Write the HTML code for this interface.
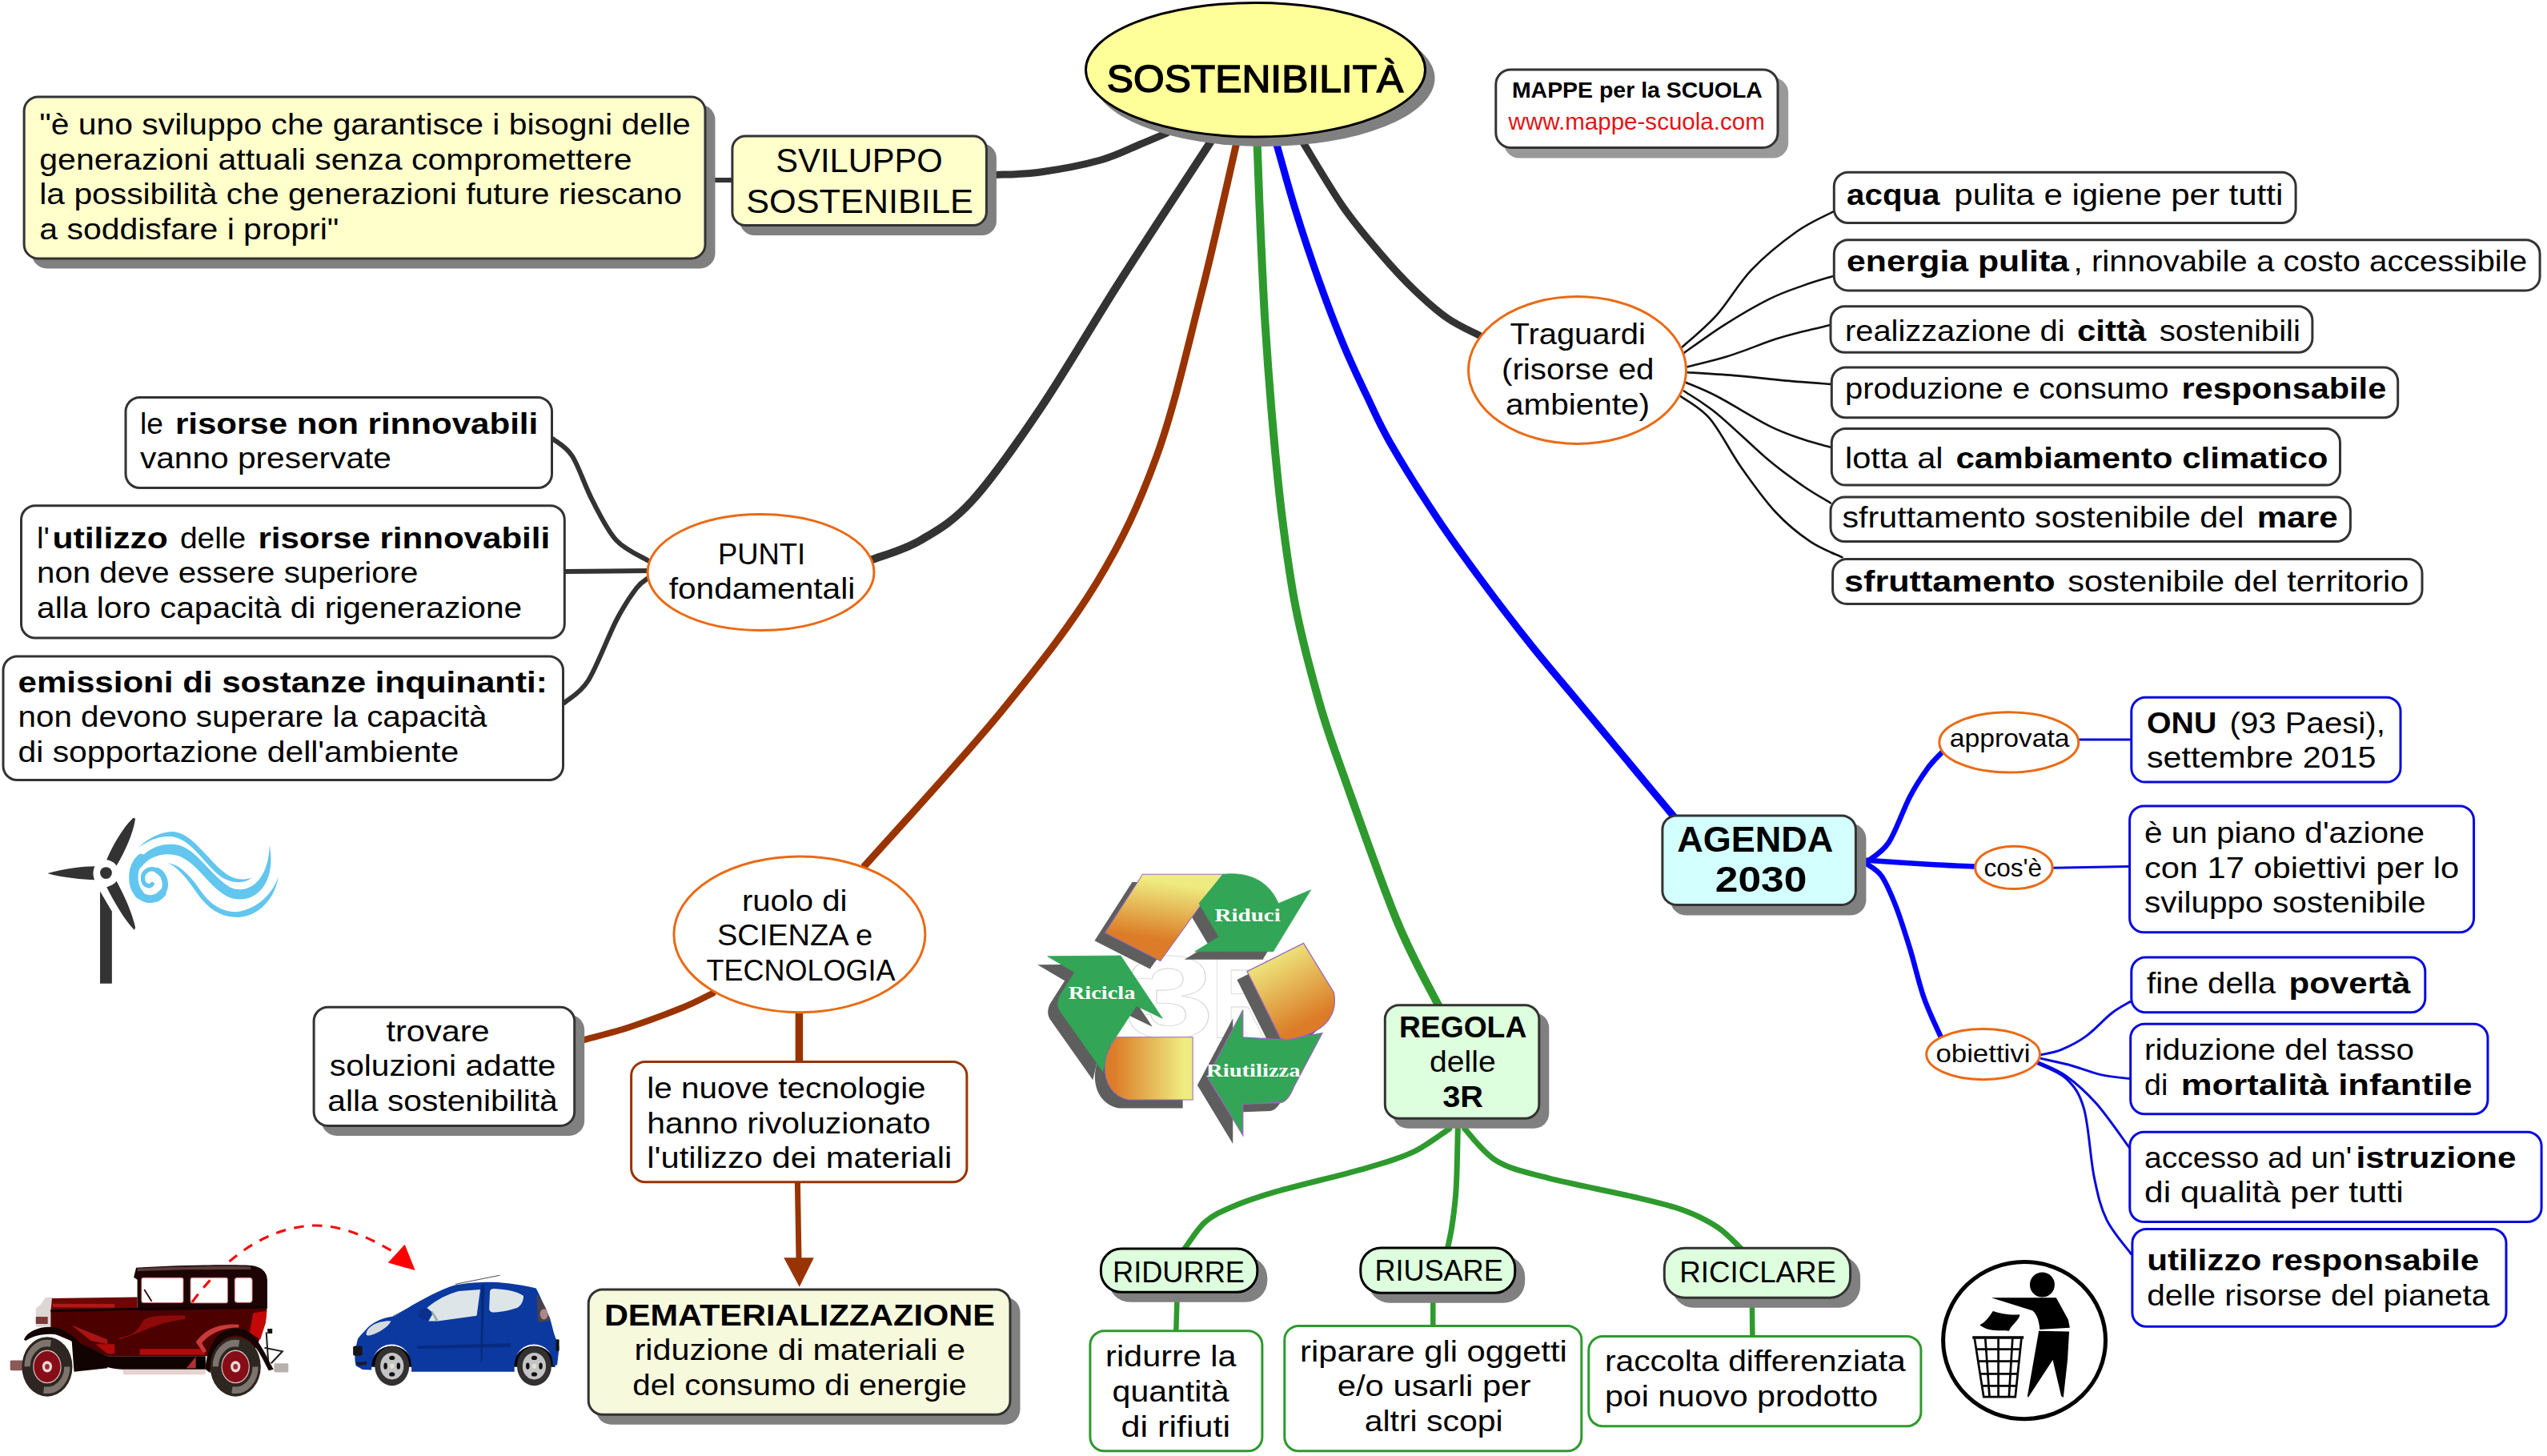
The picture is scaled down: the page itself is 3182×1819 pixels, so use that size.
<!DOCTYPE html>
<html><head><meta charset="utf-8"><title>Sostenibilita</title>
<style>
html,body{margin:0;padding:0;background:#fff;}
body{width:3182px;height:1819px;overflow:hidden;}
svg{display:block;font-family:"Liberation Sans",sans-serif;}
text{white-space:pre;}
</style></head><body>
<svg width="3182" height="1819" viewBox="0 0 3182 1819">
<rect width="3182" height="1819" fill="#ffffff"/>
<path d="M1243.0,218.5 C1252.5,217.9 1278.0,218.1 1300.0,215.0 C1322.0,211.9 1354.2,205.8 1375.0,200.0 C1395.8,194.2 1411.2,185.7 1425.0,180.0 C1438.8,174.3 1452.5,168.3 1458.0,166.0" fill="none" stroke="#333333" stroke-width="9" stroke-linecap="round" />
<path d="M885,225 L915,225" fill="none" stroke="#333333" stroke-width="6" stroke-linecap="round" />
<path d="M1512.0,178.0 C1493.3,206.7 1435.3,294.7 1400.0,350.0 C1364.7,405.3 1330.8,464.2 1300.0,510.0 C1269.2,555.8 1240.0,597.5 1215.0,625.0 C1190.0,652.5 1170.8,662.7 1150.0,675.0 C1129.2,687.3 1100.0,695.0 1090.0,699.0" fill="none" stroke="#333333" stroke-width="10" stroke-linecap="round" />
<path d="M1545.0,178.0 C1537.5,210.0 1516.7,304.7 1500.0,370.0 C1483.3,435.3 1466.7,510.3 1445.0,570.0 C1423.3,629.7 1402.5,674.7 1370.0,728.0 C1337.5,781.3 1298.3,831.0 1250.0,890.0 C1201.7,949.0 1108.3,1050.0 1080.0,1082.0" fill="none" stroke="#993300" stroke-width="9" stroke-linecap="round" />
<path d="M1570.6,178.0 C1571.3,196.3 1573.1,250.1 1574.8,288.1 C1576.5,326.2 1578.2,366.9 1580.7,406.3 C1583.2,445.7 1586.1,485.0 1589.5,524.4 C1592.9,563.8 1596.4,603.1 1601.3,642.5 C1606.2,681.9 1611.2,721.3 1619.1,760.7 C1627.0,800.1 1638.8,844.3 1648.6,878.8 C1658.4,913.2 1662.0,922.2 1678.1,967.4 C1694.2,1012.6 1725.2,1101.9 1745.0,1150.0 C1764.8,1198.1 1788.3,1238.3 1797.0,1256.0" fill="none" stroke="#2e9a2e" stroke-width="10" stroke-linecap="round" />
<path d="M1594.3,178.0 C1598.4,192.4 1610.0,235.3 1619.1,264.5 C1628.1,293.7 1638.8,325.5 1648.6,353.1 C1658.4,380.7 1668.2,406.3 1678.1,429.9 C1687.9,453.5 1697.8,474.2 1707.7,494.9 C1717.6,515.6 1722.4,528.3 1737.2,553.9 C1752.0,579.5 1776.6,618.9 1796.3,648.4 C1816.0,677.9 1835.6,704.5 1855.3,731.1 C1875.0,757.7 1894.7,783.3 1914.4,807.9 C1934.1,832.5 1953.8,855.2 1973.5,878.8 C1993.2,902.4 2012.9,926.2 2032.5,949.7 C2052.1,973.2 2081.2,1008.3 2091.0,1020.0" fill="none" stroke="#0000ff" stroke-width="9" stroke-linecap="round" />
<path d="M1627.9,178.0 C1636.3,191.4 1661.8,235.3 1678.1,258.6 C1694.3,281.9 1710.6,300.5 1725.4,317.7 C1740.2,334.9 1752.9,348.7 1766.7,362.0 C1780.5,375.3 1794.5,387.9 1808.1,397.4 C1821.6,406.9 1841.3,415.4 1848.0,419.0" fill="none" stroke="#333333" stroke-width="9" stroke-linecap="round" />
<path d="M691.0,548.5 C695.0,552.1 706.8,557.2 715.0,570.0 C723.2,582.8 730.8,607.5 740.0,625.0 C749.2,642.5 758.5,662.5 770.0,675.0 C781.5,687.5 802.5,695.8 809.0,700.0" fill="none" stroke="#333333" stroke-width="6" stroke-linecap="round" />
<path d="M706,714 L810,713" fill="none" stroke="#333333" stroke-width="6" stroke-linecap="round" />
<path d="M705.0,878.0 C710.0,873.3 724.2,867.2 735.0,850.0 C745.8,832.8 760.0,794.2 770.0,775.0 C780.0,755.8 788.3,743.8 795.0,735.0 C801.7,726.2 807.5,724.2 810.0,722.0" fill="none" stroke="#333333" stroke-width="6" stroke-linecap="round" />
<path d="M890.6,1240.8 C884.4,1243.8 870.9,1251.4 853.5,1258.5 C836.1,1265.6 807.0,1276.4 786.4,1283.2 C765.8,1290.0 739.2,1296.4 729.8,1299.1" fill="none" stroke="#993300" stroke-width="8" stroke-linecap="round" />
<path d="M998.4,1262 L998.4,1328" fill="none" stroke="#993300" stroke-width="9.5" stroke-linecap="round" />
<path d="M996.4,1478 L998,1574" fill="none" stroke="#993300" stroke-width="7" stroke-linecap="round" />
<path d="M979.2,1571.3 L1016.8,1571.3 L998.7,1607.8 Z" fill="#993300"/>
<path d="M1810.7,1410.2 C1802.9,1415.2 1782.4,1431.4 1764.0,1439.9 C1745.6,1448.4 1728.7,1453.0 1700.4,1461.1 C1672.1,1469.2 1621.2,1480.9 1594.4,1488.7 C1567.6,1496.5 1554.1,1501.4 1539.3,1507.7 C1524.5,1514.0 1515.3,1518.1 1505.4,1526.8 C1495.5,1535.5 1484.2,1554.5 1479.9,1560.0" fill="none" stroke="#2e9a2e" stroke-width="7" stroke-linecap="round" />
<path d="M1821.3,1410.2 C1821.0,1422.6 1820.4,1464.2 1819.2,1484.4 C1818.0,1504.6 1815.9,1518.7 1814.1,1531.1 C1812.3,1543.5 1809.5,1554.3 1808.6,1559.0" fill="none" stroke="#2e9a2e" stroke-width="7" stroke-linecap="round" />
<path d="M1829.8,1410.2 C1836.5,1416.9 1852.7,1440.2 1870.0,1450.5 C1887.3,1460.8 1905.4,1464.3 1933.7,1471.7 C1962.0,1479.1 2011.4,1488.3 2039.7,1495.0 C2068.0,1501.7 2085.6,1505.6 2103.3,1512.0 C2121.0,1518.4 2133.7,1525.2 2145.7,1533.2 C2157.7,1541.2 2170.4,1555.5 2175.3,1560.0" fill="none" stroke="#2e9a2e" stroke-width="7" stroke-linecap="round" />
<path d="M1470.6,1620 L1469.3,1663" fill="none" stroke="#2e9a2e" stroke-width="6.5" stroke-linecap="round" />
<path d="M1790.3,1620 L1790.3,1657" fill="none" stroke="#2e9a2e" stroke-width="6.5" stroke-linecap="round" />
<path d="M2188.9,1628 L2189.4,1670" fill="none" stroke="#2e9a2e" stroke-width="6.5" stroke-linecap="round" />
<path d="M2331.8,1076.9 C2336.4,1072.9 2350.5,1066.2 2359.5,1052.6 C2368.5,1039.0 2377.9,1010.8 2386.0,995.4 C2394.1,980.0 2401.4,969.3 2408.0,960.1 C2414.6,950.9 2422.7,943.6 2425.6,940.3" fill="none" stroke="#0000ff" stroke-width="6.5" stroke-linecap="round" />
<path d="M2331.8,1074.7 C2345.2,1075.6 2389.9,1078.7 2412.4,1080.0 C2434.9,1081.3 2457.9,1082.2 2467.0,1082.6" fill="none" stroke="#0000ff" stroke-width="6.5" stroke-linecap="round" />
<path d="M2331.8,1079.1 C2335.0,1081.7 2344.6,1085.7 2350.7,1094.5 C2356.8,1103.3 2362.5,1116.9 2368.4,1131.9 C2374.3,1147.0 2380.1,1165.7 2386.0,1184.8 C2391.9,1203.9 2397.2,1228.3 2403.6,1246.5 C2409.9,1264.7 2420.7,1286.2 2424.1,1294.1" fill="none" stroke="#0000ff" stroke-width="6.5" stroke-linecap="round" />
<path d="M2598,924 L2662,924" fill="none" stroke="#0808de" stroke-width="3" stroke-linecap="round" />
<path d="M2565.7,1084.3 L2659.5,1082.6" fill="none" stroke="#0808de" stroke-width="3" stroke-linecap="round" />
<path d="M2550.0,1317.7 C2554.2,1316.7 2565.8,1315.3 2575.2,1311.4 C2584.6,1307.5 2596.2,1301.7 2606.7,1294.1 C2617.2,1286.5 2629.1,1272.8 2638.2,1265.7 C2647.2,1258.6 2657.2,1253.9 2661.0,1251.6" fill="none" stroke="#0808de" stroke-width="3" stroke-linecap="round" />
<path d="M2550.0,1322.4 C2555.8,1323.7 2572.1,1326.9 2584.7,1330.3 C2597.3,1333.7 2612.9,1340.0 2625.6,1342.9 C2638.3,1345.8 2655.1,1346.8 2661.0,1347.6" fill="none" stroke="#0808de" stroke-width="3" stroke-linecap="round" />
<path d="M2546.9,1327.1 C2552.7,1330.0 2569.4,1335.8 2581.5,1344.5 C2593.6,1353.2 2606.1,1364.1 2619.3,1379.1 C2632.5,1394.0 2653.6,1425.0 2660.5,1434.2" fill="none" stroke="#0808de" stroke-width="3" stroke-linecap="round" />
<path d="M2545.3,1328.7 C2551.3,1331.8 2571.8,1338.1 2581.5,1347.6 C2591.2,1357.0 2597.8,1364.9 2603.6,1385.4 C2609.4,1405.9 2611.5,1447.3 2616.2,1470.4 C2620.9,1493.5 2624.2,1507.9 2631.9,1523.9 C2639.6,1539.9 2657.4,1559.4 2662.5,1566.5" fill="none" stroke="#0808de" stroke-width="3" stroke-linecap="round" />
<path d="M2101.6,433.6 C2108.8,426.9 2130.5,409.4 2144.9,393.3 C2159.3,377.3 2171.6,354.4 2188.2,337.1 C2204.7,319.8 2227.4,301.6 2244.4,289.5 C2261.4,277.4 2282.6,268.6 2290.3,264.4" fill="none" stroke="#111" stroke-width="2.6" stroke-linecap="round" />
<path d="M2103.8,440.9 C2112.1,435.2 2135.9,417.5 2153.6,406.3 C2171.2,395.2 2193.2,382.2 2209.8,373.9 C2226.4,365.6 2239.7,361.4 2253.1,356.6 C2266.5,351.7 2284.1,346.8 2290.3,344.9" fill="none" stroke="#111" stroke-width="2.6" stroke-linecap="round" />
<path d="M2108.1,458.2 C2116.4,456.1 2139.5,451.0 2157.9,445.3 C2176.3,439.5 2202.6,428.8 2218.5,423.6 C2234.3,418.4 2241.8,417.0 2253.1,414.1 C2264.3,411.2 2280.5,407.6 2285.9,406.3" fill="none" stroke="#111" stroke-width="2.6" stroke-linecap="round" />
<path d="M2108.1,465.2 C2117.9,465.8 2146.0,467.3 2166.5,469.1 C2187.1,470.8 2211.4,473.8 2231.4,475.6 C2251.5,477.4 2277.6,479.2 2286.8,479.9" fill="none" stroke="#111" stroke-width="2.6" stroke-linecap="round" />
<path d="M2106.0,477.7 C2112.4,480.6 2127.6,486.0 2144.9,495.0 C2162.2,504.0 2191.8,522.8 2209.8,531.8 C2227.8,540.8 2240.2,544.6 2253.1,549.1 C2265.9,553.6 2281.2,557.0 2286.8,558.6" fill="none" stroke="#111" stroke-width="2.6" stroke-linecap="round" />
<path d="M2103.8,488.5 C2110.6,493.2 2127.2,502.2 2144.9,516.7 C2162.6,531.1 2191.8,559.9 2209.8,575.1 C2227.8,590.2 2240.2,598.6 2253.1,607.5 C2265.9,616.4 2281.2,624.8 2286.8,628.3" fill="none" stroke="#111" stroke-width="2.6" stroke-linecap="round" />
<path d="M2099.5,495.0 C2105.6,499.7 2123.6,508.4 2136.2,523.1 C2148.9,537.9 2161.5,564.2 2175.2,583.7 C2188.9,603.2 2204.0,624.5 2218.5,640.0 C2232.9,655.5 2247.9,667.4 2261.7,676.7 C2275.6,686.1 2294.9,693.0 2301.5,696.2" fill="none" stroke="#111" stroke-width="2.6" stroke-linecap="round" />
<ellipse cx="1579.0" cy="97.8" rx="213.5" ry="85.2" fill="#808080"/>
<ellipse cx="1568.5" cy="87.2" rx="212.0" ry="83.8" fill="#ffff99" stroke="#000" stroke-width="3"/>
<text x="1382.8" y="114.8" font-size="49" stroke="#000" stroke-width="1.5" textLength="370.4" lengthAdjust="spacingAndGlyphs">SOSTENIBILITÀ</text>
<rect x="39.6" y="130.6" width="853.9" height="204.8" rx="19" fill="#808080"/>
<rect x="30.1" y="121.1" width="850.9" height="201.8" rx="17.5" fill="#ffffcc" stroke="#333" stroke-width="3"/>
<text x="49.3" y="167.9" font-size="37" textLength="813.5" lengthAdjust="spacingAndGlyphs">"è uno sviluppo che garantisce i bisogni delle</text>
<text x="49.3" y="211.5" font-size="37" textLength="740.3" lengthAdjust="spacingAndGlyphs">generazioni attuali senza compromettere</text>
<text x="49.3" y="255.4" font-size="37" textLength="802.7" lengthAdjust="spacingAndGlyphs">la possibilità che generazioni future riescano</text>
<text x="49.3" y="299.0" font-size="37" textLength="374.0" lengthAdjust="spacingAndGlyphs">a soddisfare i propri"</text>
<rect x="924.4" y="179.4" width="320.5" height="114.7" rx="18" fill="#808080"/>
<rect x="914.9" y="169.9" width="317.5" height="111.7" rx="16.5" fill="#ffffcc" stroke="#333" stroke-width="3"/>
<text x="969.3" y="215.0" font-size="42.5" textLength="208.5" lengthAdjust="spacingAndGlyphs">SVILUPPO</text>
<text x="932.2" y="265.9" font-size="42.5" textLength="283.6" lengthAdjust="spacingAndGlyphs">SOSTENIBILE</text>
<rect x="1879.0" y="97.1" width="355.2" height="100.5" rx="19" fill="#999"/>
<rect x="1868.8" y="86.9" width="352.2" height="97.5" rx="18.5" fill="#fff" stroke="#333" stroke-width="3"/>
<text x="1888.9" y="121.8" font-size="28.5" font-weight="bold" textLength="313.0" lengthAdjust="spacingAndGlyphs">MAPPE per la SCUOLA</text>
<text x="1884.6" y="161.9" font-size="28.7" fill="#e01515" textLength="320.2" lengthAdjust="spacingAndGlyphs">www.mappe-scuola.com</text>
<ellipse cx="950.5" cy="715.0" rx="141.5" ry="72.5" fill="#fff" stroke="#ea6a14" stroke-width="3"/>
<text x="897.1" y="704.9" font-size="37" textLength="109.0" lengthAdjust="spacingAndGlyphs">PUNTI</text>
<text x="835.7" y="748.4" font-size="37" textLength="232.5" lengthAdjust="spacingAndGlyphs">fondamentali</text>
<rect x="157.0" y="496.5" width="532.5" height="113.0" rx="17.5" fill="#fff" stroke="#333" stroke-width="3"/>
<text x="174.9" y="541.5" font-size="37" textLength="28.9" lengthAdjust="spacingAndGlyphs">le</text>
<text x="218.9" y="541.5" font-size="37" font-weight="bold" textLength="453.3" lengthAdjust="spacingAndGlyphs">risorse non rinnovabili</text>
<text x="174.9" y="584.9" font-size="37" textLength="314.0" lengthAdjust="spacingAndGlyphs">vanno preservate</text>
<rect x="26.5" y="631.8" width="678.8" height="165.2" rx="17.5" fill="#fff" stroke="#333" stroke-width="3"/>
<text x="46.0" y="684.9" font-size="37" textLength="15.9" lengthAdjust="spacingAndGlyphs">l'</text>
<text x="65.5" y="684.9" font-size="37" font-weight="bold" textLength="144.4" lengthAdjust="spacingAndGlyphs">utilizzo</text>
<text x="224.9" y="684.9" font-size="37" textLength="82.4" lengthAdjust="spacingAndGlyphs">delle</text>
<text x="322.4" y="684.9" font-size="37" font-weight="bold" textLength="364.8" lengthAdjust="spacingAndGlyphs">risorse rinnovabili</text>
<text x="46.0" y="728.4" font-size="37" textLength="476.4" lengthAdjust="spacingAndGlyphs">non deve essere superiore</text>
<text x="46.0" y="771.9" font-size="37" textLength="606.2" lengthAdjust="spacingAndGlyphs">alla loro capacità di rigenerazione</text>
<rect x="4.0" y="820.0" width="699.5" height="154.5" rx="17.5" fill="#fff" stroke="#333" stroke-width="3"/>
<text x="22.5" y="864.8" font-size="37" font-weight="bold" textLength="661.2" lengthAdjust="spacingAndGlyphs">emissioni di sostanze inquinanti:</text>
<text x="22.5" y="908.3" font-size="37" textLength="586.1" lengthAdjust="spacingAndGlyphs">non devono superare la capacità</text>
<text x="22.5" y="951.8" font-size="37" textLength="550.7" lengthAdjust="spacingAndGlyphs">di sopportazione dell'ambiente</text>
<ellipse cx="1970.5" cy="462.5" rx="136.0" ry="92.0" fill="#fff" stroke="#ea6a14" stroke-width="3"/>
<text x="1886.5" y="430.0" font-size="37" textLength="169.4" lengthAdjust="spacingAndGlyphs">Traguardi</text>
<text x="1876.0" y="474.0" font-size="37" textLength="190.5" lengthAdjust="spacingAndGlyphs">(risorse ed</text>
<text x="1881.0" y="517.5" font-size="37" textLength="180.1" lengthAdjust="spacingAndGlyphs">ambiente)</text>
<rect x="2291.3" y="215.3" width="576.8" height="63.2" rx="17.5" fill="#fff" stroke="#333" stroke-width="3"/>
<text x="2307.1" y="255.8" font-size="37" font-weight="bold" textLength="116.4" lengthAdjust="spacingAndGlyphs">acqua</text>
<text x="2441.3" y="255.8" font-size="37" textLength="411.0" lengthAdjust="spacingAndGlyphs">pulita e igiene per tutti</text>
<rect x="2291.3" y="299.7" width="881.8" height="63.2" rx="17.5" fill="#fff" stroke="#333" stroke-width="3"/>
<text x="2307.1" y="339.3" font-size="37" font-weight="bold" textLength="277.8" lengthAdjust="spacingAndGlyphs">energia pulita</text>
<text x="2590.5" y="339.3" font-size="37" textLength="566.7" lengthAdjust="spacingAndGlyphs">, rinnovabile a costo accessibile</text>
<rect x="2287.0" y="382.7" width="601.9" height="57.6" rx="17.5" fill="#fff" stroke="#333" stroke-width="3"/>
<text x="2305.0" y="425.8" font-size="37" textLength="274.6" lengthAdjust="spacingAndGlyphs">realizzazione di</text>
<text x="2594.9" y="425.8" font-size="37" font-weight="bold" textLength="86.4" lengthAdjust="spacingAndGlyphs">città</text>
<text x="2697.8" y="425.8" font-size="37" textLength="176.1" lengthAdjust="spacingAndGlyphs">sostenibili</text>
<rect x="2288.3" y="458.9" width="707.4" height="62.8" rx="17.5" fill="#fff" stroke="#333" stroke-width="3"/>
<text x="2305.0" y="498.1" font-size="37" textLength="404.5" lengthAdjust="spacingAndGlyphs">produzione e consumo</text>
<text x="2725.5" y="498.1" font-size="37" font-weight="bold" textLength="255.7" lengthAdjust="spacingAndGlyphs">responsabile</text>
<rect x="2288.3" y="535.5" width="635.2" height="70.6" rx="17.5" fill="#fff" stroke="#333" stroke-width="3"/>
<text x="2305.0" y="584.6" font-size="37" textLength="122.5" lengthAdjust="spacingAndGlyphs">lotta al</text>
<text x="2443.4" y="584.6" font-size="37" font-weight="bold" textLength="465.1" lengthAdjust="spacingAndGlyphs">cambiamento climatico</text>
<rect x="2287.0" y="621.1" width="649.4" height="55.4" rx="17.5" fill="#fff" stroke="#333" stroke-width="3"/>
<text x="2301.5" y="659.4" font-size="37" textLength="501.8" lengthAdjust="spacingAndGlyphs">sfruttamento sostenibile del</text>
<text x="2819.8" y="659.4" font-size="37" font-weight="bold" textLength="100.8" lengthAdjust="spacingAndGlyphs">mare</text>
<rect x="2289.6" y="698.6" width="736.4" height="55.8" rx="17.5" fill="#fff" stroke="#333" stroke-width="3"/>
<text x="2304.1" y="738.6" font-size="37" font-weight="bold" textLength="263.6" lengthAdjust="spacingAndGlyphs">sfruttamento</text>
<text x="2583.2" y="738.6" font-size="37" textLength="426.1" lengthAdjust="spacingAndGlyphs">sostenibile del territorio</text>
<ellipse cx="998.9" cy="1167.3" rx="157.0" ry="97.4" fill="#fff" stroke="#ea6a14" stroke-width="3"/>
<text x="927.0" y="1137.6" font-size="37" textLength="131.4" lengthAdjust="spacingAndGlyphs">ruolo di</text>
<text x="895.9" y="1181.4" font-size="37" textLength="194.3" lengthAdjust="spacingAndGlyphs">SCIENZA e</text>
<text x="882.5" y="1224.9" font-size="37" textLength="235.9" lengthAdjust="spacingAndGlyphs">TECNOLOGIA</text>
<rect x="401.6" y="1267.7" width="328.6" height="151.2" rx="19" fill="#808080"/>
<rect x="392.1" y="1258.2" width="325.6" height="148.2" rx="17.5" fill="#fff" stroke="#333" stroke-width="3"/>
<text x="482.5" y="1300.9" font-size="37" textLength="129.1" lengthAdjust="spacingAndGlyphs">trovare</text>
<text x="411.8" y="1344.3" font-size="37" textLength="282.7" lengthAdjust="spacingAndGlyphs">soluzioni adatte</text>
<text x="409.3" y="1388.2" font-size="37" textLength="287.4" lengthAdjust="spacingAndGlyphs">alla sostenibilità</text>
<rect x="788.6" y="1326.4" width="419.3" height="150.4" rx="17.5" fill="#fff" stroke="#993300" stroke-width="3"/>
<text x="808.3" y="1371.6" font-size="37" textLength="348.3" lengthAdjust="spacingAndGlyphs">le nuove tecnologie</text>
<text x="808.3" y="1415.7" font-size="37" textLength="354.3" lengthAdjust="spacingAndGlyphs">hanno rivoluzionato</text>
<text x="808.3" y="1459.2" font-size="37" textLength="380.9" lengthAdjust="spacingAndGlyphs">l'utilizzo dei materiali</text>
<rect x="744.7" y="1620.5" width="529.8" height="159.2" rx="19" fill="#808080"/>
<rect x="735.2" y="1611.0" width="526.8" height="156.2" rx="17.5" fill="#f7f9dc" stroke="#333" stroke-width="3"/>
<text x="754.9" y="1655.6" font-size="37" font-weight="bold" textLength="488.0" lengthAdjust="spacingAndGlyphs">DEMATERIALIZZAZIONE</text>
<text x="792.6" y="1699.2" font-size="37" textLength="413.4" lengthAdjust="spacingAndGlyphs">riduzione di materiali e</text>
<text x="790.2" y="1743.3" font-size="37" textLength="417.4" lengthAdjust="spacingAndGlyphs">del consumo di energie</text>
<rect x="1739.8" y="1265.2" width="195.5" height="144.6" rx="19" fill="#808080"/>
<rect x="1730.3" y="1255.7" width="192.5" height="141.6" rx="17.5" fill="#ddffdd" stroke="#333" stroke-width="3"/>
<text x="1747.9" y="1295.7" font-size="37" font-weight="bold" textLength="159.4" lengthAdjust="spacingAndGlyphs">REGOLA</text>
<text x="1786.1" y="1339.4" font-size="37" textLength="82.6" lengthAdjust="spacingAndGlyphs">delle</text>
<text x="1802.2" y="1382.7" font-size="37" font-weight="bold" textLength="50.8" lengthAdjust="spacingAndGlyphs">3R</text>
<rect x="1384.9" y="1569.6" width="198.4" height="57.2" rx="27" fill="#808080"/>
<rect x="1375.4" y="1560.1" width="195.4" height="54.2" rx="25.5" fill="#ddffdd" stroke="#000" stroke-width="3"/>
<text x="1390.0" y="1601.9" font-size="37" textLength="165.0" lengthAdjust="spacingAndGlyphs">RIDURRE</text>
<rect x="1709.3" y="1568.4" width="195.9" height="59.4" rx="27" fill="#808080"/>
<rect x="1699.8" y="1558.9" width="192.9" height="56.4" rx="25.5" fill="#ddffdd" stroke="#000" stroke-width="3"/>
<text x="1717.4" y="1599.8" font-size="37" textLength="160.3" lengthAdjust="spacingAndGlyphs">RIUSARE</text>
<rect x="2088.8" y="1568.8" width="235.3" height="64.9" rx="27" fill="#808080"/>
<rect x="2079.3" y="1559.3" width="232.3" height="61.9" rx="25.5" fill="#ddffdd" stroke="#333333" stroke-width="3"/>
<text x="2098.2" y="1602.3" font-size="37" textLength="195.9" lengthAdjust="spacingAndGlyphs">RICICLARE</text>
<rect x="1361.9" y="1662.7" width="215.0" height="150.1" rx="17.5" fill="#fff" stroke="#2e9a2e" stroke-width="3"/>
<text x="1381.1" y="1707.0" font-size="37" textLength="163.5" lengthAdjust="spacingAndGlyphs">ridurre la</text>
<text x="1389.6" y="1750.7" font-size="37" textLength="146.0" lengthAdjust="spacingAndGlyphs">quantità</text>
<text x="1400.6" y="1794.8" font-size="37" textLength="136.4" lengthAdjust="spacingAndGlyphs">di rifiuti</text>
<rect x="1604.8" y="1656.4" width="371.0" height="156.4" rx="17.5" fill="#fff" stroke="#2e9a2e" stroke-width="3"/>
<text x="1624.1" y="1700.7" font-size="37" textLength="333.7" lengthAdjust="spacingAndGlyphs">riparare gli oggetti</text>
<text x="1670.7" y="1744.4" font-size="37" textLength="241.7" lengthAdjust="spacingAndGlyphs">e/o usarli per</text>
<text x="1704.7" y="1787.6" font-size="37" textLength="173.0" lengthAdjust="spacingAndGlyphs">altri scopi</text>
<rect x="1984.8" y="1669.5" width="415.1" height="112.3" rx="17.5" fill="#fff" stroke="#2e9a2e" stroke-width="3"/>
<text x="2004.9" y="1712.6" font-size="37" textLength="375.9" lengthAdjust="spacingAndGlyphs">raccolta differenziata</text>
<text x="2004.9" y="1757.1" font-size="37" textLength="341.3" lengthAdjust="spacingAndGlyphs">poi nuovo prodotto</text>
<rect x="2086.9" y="1028.9" width="244.5" height="114.5" rx="19" fill="#808080"/>
<rect x="2076.9" y="1018.9" width="241.5" height="111.5" rx="17.5" fill="#d4ffff" stroke="#333" stroke-width="3"/>
<text x="2095.2" y="1063.6" font-size="45" font-weight="bold" textLength="195.1" lengthAdjust="spacingAndGlyphs">AGENDA</text>
<text x="2142.8" y="1114.3" font-size="45" font-weight="bold" textLength="114.5" lengthAdjust="spacingAndGlyphs">2030</text>
<ellipse cx="2509.8" cy="927.4" rx="87.0" ry="37.6" fill="#fff" stroke="#ea6a14" stroke-width="3"/>
<text x="2435.8" y="932.8" font-size="30.5" textLength="149.7" lengthAdjust="spacingAndGlyphs">approvata</text>
<ellipse cx="2515.9" cy="1083.9" rx="48.3" ry="26.7" fill="#fff" stroke="#ea6a14" stroke-width="3"/>
<text x="2478.5" y="1095.4" font-size="30.5" textLength="72.6" lengthAdjust="spacingAndGlyphs">cos'è</text>
<rect x="2662.8" y="871.3" width="336.2" height="105.8" rx="17.5" fill="#fff" stroke="#0808de" stroke-width="3"/>
<text x="2682.0" y="916.1" font-size="37" font-weight="bold" textLength="87.3" lengthAdjust="spacingAndGlyphs">ONU</text>
<text x="2785.5" y="916.1" font-size="37" textLength="194.3" lengthAdjust="spacingAndGlyphs">(93 Paesi),</text>
<text x="2682.0" y="958.8" font-size="37" textLength="286.3" lengthAdjust="spacingAndGlyphs">settembre 2015</text>
<rect x="2660.6" y="1007.0" width="430.0" height="157.8" rx="17.5" fill="#fff" stroke="#0808de" stroke-width="3"/>
<text x="2678.9" y="1052.6" font-size="37" textLength="350.1" lengthAdjust="spacingAndGlyphs">è un piano d'azione</text>
<text x="2678.9" y="1096.7" font-size="37" textLength="393.4" lengthAdjust="spacingAndGlyphs">con 17 obiettivi per lo</text>
<text x="2678.9" y="1139.9" font-size="37" textLength="351.6" lengthAdjust="spacingAndGlyphs">sviluppo sostenibile</text>
<rect x="2662.8" y="1196.0" width="367.0" height="68.8" rx="17.5" fill="#fff" stroke="#0808de" stroke-width="3"/>
<text x="2682.0" y="1240.7" font-size="37" textLength="161.1" lengthAdjust="spacingAndGlyphs">fine della</text>
<text x="2859.5" y="1240.7" font-size="37" font-weight="bold" textLength="151.9" lengthAdjust="spacingAndGlyphs">povertà</text>
<ellipse cx="2477.6" cy="1317.1" rx="70.9" ry="31.6" fill="#fff" stroke="#ea6a14" stroke-width="3"/>
<text x="2418.4" y="1327.1" font-size="30.5" textLength="118.1" lengthAdjust="spacingAndGlyphs">obiettivi</text>
<rect x="2661.7" y="1279.2" width="446.3" height="112.6" rx="17.5" fill="#fff" stroke="#0808de" stroke-width="3"/>
<text x="2679.1" y="1324.0" font-size="37" textLength="336.9" lengthAdjust="spacingAndGlyphs">riduzione del tasso</text>
<text x="2679.1" y="1367.5" font-size="37" textLength="29.2" lengthAdjust="spacingAndGlyphs">di</text>
<text x="2724.8" y="1367.5" font-size="37" font-weight="bold" textLength="363.7" lengthAdjust="spacingAndGlyphs">mortalità infantile</text>
<rect x="2660.8" y="1414.3" width="514.3" height="112.2" rx="17.5" fill="#fff" stroke="#0808de" stroke-width="3"/>
<text x="2679.1" y="1458.5" font-size="37" textLength="259.1" lengthAdjust="spacingAndGlyphs">accesso ad un'</text>
<text x="2943.6" y="1458.5" font-size="37" font-weight="bold" textLength="199.9" lengthAdjust="spacingAndGlyphs">istruzione</text>
<text x="2679.1" y="1501.9" font-size="37" textLength="323.7" lengthAdjust="spacingAndGlyphs">di qualità per tutti</text>
<rect x="2663.9" y="1535.5" width="467.1" height="121.7" rx="17.5" fill="#fff" stroke="#0808de" stroke-width="3"/>
<text x="2682.3" y="1586.9" font-size="37" font-weight="bold" textLength="415.0" lengthAdjust="spacingAndGlyphs">utilizzo responsabile</text>
<text x="2682.3" y="1631.0" font-size="37" textLength="428.1" lengthAdjust="spacingAndGlyphs">delle risorse del pianeta</text>
<g transform="translate(40,1010) scale(0.158)">
<polygon points="538,655 632,815 632,1385 538,1385" fill="#333"/>
<circle cx="585" cy="510" r="47" fill="#333"/>
<path d="M590,405 C640,290 720,150 800,75 L817,80 C800,200 730,350 668,452 C650,425 620,410 590,405 Z" fill="#333"/>
<path d="M590,622 C620,615 650,600 668,575 C730,690 790,820 817,940 L810,962 C730,880 650,740 590,622 Z" fill="#333"/>
<path d="M125,512 C250,475 400,458 497,457 C480,490 480,530 495,565 C400,562 250,550 125,515 Z" fill="#333"/>
<g fill="none" stroke="#62c6ee" stroke-linecap="round"><path d="M862,395 C790,460 780,600 850,680" stroke-width="72"/><path d="M850,680 C900,730 980,730 1030,670" stroke-width="62"/><path d="M1030,670 C1075,610 1050,520 990,490" stroke-width="46"/><path d="M990,490 C930,460 870,500 877,560 C880,610 930,625 950,598" stroke-width="34"/></g>
<path d="M815,470 C860,340 1000,270 1130,285 C1290,300 1400,520 1560,620 C1700,690 1870,580 1878,292 C1935,600 1760,760 1580,710 C1420,660 1330,450 1170,380 C1060,340 930,370 860,470 Z" fill="#62c6ee"/>
<path d="M842,308 C920,230 1040,175 1130,185 C1290,210 1400,430 1540,520 C1610,565 1680,570 1738,548 C1680,600 1590,590 1510,550 C1380,470 1280,260 1120,225 C1020,210 930,250 842,308 Z" fill="#62c6ee"/>
<path d="M1072,432 C1170,440 1260,540 1340,660 C1420,770 1520,830 1640,815 C1780,790 1900,680 1948,540 C1920,720 1790,850 1640,860 C1480,865 1380,780 1290,650 C1220,550 1150,460 1072,432 Z" fill="#62c6ee"/>
</g>
<g transform="translate(2410,1560) scale(0.158)">
<ellipse cx="753.5" cy="725" rx="642" ry="621" fill="#fff" stroke="#000" stroke-width="32"/>
<circle cx="895" cy="285" r="98" fill="#000"/>
<path d="M497,387 L1005,387 L1100,560 L1113,625 L875,640 C872,590 860,530 820,490 L497,390 Z" fill="#000"/>
<path d="M868,650 L1108,655 L1095,880 L1062,1178 L1045,1165 L978,880 L783,1178 L778,1165 Z" fill="#000"/>
<path d="M400,603 C450,580 480,530 505,493 C560,510 650,530 718,520 C715,565 650,600 632,650 C560,640 480,665 400,603 Z" fill="#000"/>
<g fill="none" stroke="#000" stroke-width="17">
<path d="M343,703 L748,703" stroke-width="22"/>
<path d="M360,712 L432,1172 L682,1172 L730,712"/>
<path d="M445,712 L478,1172 M548,712 L548,1172 M660,712 L632,1172"/>
<path d="M373,795 L722,795 M388,890 L712,890 M403,990 L702,990 M418,1085 L692,1085"/>
</g></g>
<polygon points="518.6,1587.1 505.7,1554.8 484.8,1577.6" fill="#ff0000"/>
<path d="M240,1627 C285,1565 340,1532 394,1531 C430,1531 465,1548 495,1566" fill="none" stroke="#f20d0d" stroke-width="3.2" stroke-dasharray="12.5 10.5"/>
<g transform="translate(0,1560) scale(0.1492)">
<rect x="85" y="935" width="110" height="85" rx="12" fill="#8a5a58"/>
<rect x="2295" y="960" width="120" height="75" rx="10" fill="#b8b0ae"/>
<path d="M2215,830 L2365,860 L2270,960 M2230,700 L2250,1000" stroke="#222" stroke-width="14" fill="none"/>
<rect x="2240" y="670" width="40" height="40" fill="#111"/>
<path d="M300,500 L340,470 L380,410 L435,405 L430,650 L300,655 Z" fill="#ddd6d4"/>
<rect x="300" y="570" width="100" height="60" fill="#7a3a38"/>
<path d="M425,520 L2235,500 L2225,600 L2160,800 L2100,900 L1700,900 L900,900 L425,700 Z" fill="#4d0000"/>
<path d="M435,415 L1150,405 L1150,520 L425,525 Z" fill="#6e0606"/>
<path d="M440,460 L960,462 L960,495 L440,490 Z" fill="#b01818"/>
<path d="M2120,540 L2235,520 L2225,620 L2180,760 L2090,700 Z" fill="#c40808"/>
<path d="M1170,840 L1720,840 L1720,890 L1170,890 Z" fill="#b00a0a"/>
<path d="M1000,760 C1200,700 1300,620 1550,590 L1550,560 C1350,560 1250,560 1200,600 C1150,700 1100,730 1000,745 Z" fill="#8e0a0a"/>
<path d="M600,640 L900,760 L900,800 L760,770 Z" fill="#a81414"/>
<path d="M800,800 L960,800 L960,880 L900,880 Z" fill="#b00a0a"/>
<path d="M1640,780 C1700,700 1800,620 2000,635 L2000,660 C1850,660 1750,720 1690,790 L1730,860 L1700,870 Z" fill="#c83a3a"/>
<path fill-rule="evenodd" d="M1140,160 C1400,140 1900,130 2100,140 C2200,150 2235,200 2238,260 L2238,500 L1150,520 L1150,260 L1120,240 Z M1199,243 h322 a14,14 0 0 1 14,14 v182 a14,14 0 0 1 -14,14 h-322 a14,14 0 0 1 -14,-14 v-182 a14,14 0 0 1 14,-14 Z M1609,243 h284 a14,14 0 0 1 14,14 v184 a14,14 0 0 1 -14,14 h-284 a14,14 0 0 1 -14,-14 v-184 a14,14 0 0 1 14,-14 Z M1985,243 h107 a20,20 0 0 1 20,20 v168 a20,20 0 0 1 -20,20 h-107 a20,20 0 0 1 -20,-20 v-168 a20,20 0 0 1 20,-20 Z" fill="#1c0404"/>
<path d="M1150,165 C1400,150 1900,140 2100,150 L2100,175 C1900,170 1400,178 1150,190 Z" fill="#5a3a3a"/>
<rect x="1185" y="243" width="350" height="210" rx="14" fill="none" stroke="#c66" stroke-width="6"/>
<rect x="1595" y="243" width="312" height="212" rx="14" fill="none" stroke="#c66" stroke-width="6"/>
<rect x="1965" y="243" width="147" height="208" rx="20" fill="none" stroke="#c66" stroke-width="6"/>
<path d="M1208,342 L1270,440" stroke="#300" stroke-width="12"/>
<path d="M425,520 L1150,505 L2235,490" stroke="#150000" stroke-width="22" fill="none"/>
<path d="M200,760 C230,690 330,650 430,655 C560,665 640,760 720,840 C780,890 840,900 900,900 L1720,900 L1720,1010 L1020,1010 C900,1010 800,960 720,880 C640,800 560,720 430,715 C330,712 260,740 215,770 Z" fill="#120303"/>
<path d="M600,760 L900,900 L900,1000 L620,1030 Z" fill="#120303"/>
<rect x="1030" y="1012" width="690" height="42" fill="#e6d2d0"/>
<rect x="1640" y="905" width="80" height="100" fill="#000"/>
<path d="M1560,1000 L1640,905 L1640,1000 Z" fill="#b03030"/>
<path d="M1720,1010 C1730,820 1820,670 1975,665 C2130,670 2190,820 2290,1010 L2250,1020 C2180,880 2110,730 1975,725 C1850,730 1780,860 1760,1040 Z" fill="#150404"/>
<g transform="translate(395,988) scale(0.97,1.145)">
<circle cx="0" cy="0" r="218" fill="#2e2620"/>
<circle cx="0" cy="0" r="172" fill="none" stroke="#7d746e" stroke-width="50" stroke-dasharray="300 240"/>
<circle cx="0" cy="0" r="118" fill="#860c18" stroke="#d9c0be" stroke-width="8"/>
<circle cx="0" cy="0" r="42" fill="#e8d8d4"/>
<circle cx="0" cy="0" r="20" fill="#9a2a30"/>
</g>
<g transform="translate(1972,988) scale(0.97,1.145)">
<circle cx="0" cy="0" r="218" fill="#2e2620"/>
<circle cx="0" cy="0" r="172" fill="none" stroke="#7d746e" stroke-width="50" stroke-dasharray="300 240"/>
<circle cx="0" cy="0" r="118" fill="#860c18" stroke="#d9c0be" stroke-width="8"/>
<circle cx="0" cy="0" r="42" fill="#e8d8d4"/>
<circle cx="0" cy="0" r="20" fill="#9a2a30"/>
</g>
</g>
<g transform="translate(420,1510) scale(0.16484)">
<path d="M905,572 L1240,505" stroke="#222" stroke-width="5"/>
<path d="M430,815 L700,680" stroke="#444" stroke-width="5"/>
<path d="M262,1200 A160,160 0 0 1 582,1200 Z" fill="#050510"/>
<path d="M1340,1200 A160,160 0 0 1 1660,1200 Z" fill="#050510"/>
<path d="M150,1190 C130,1120 150,1040 165,985 C190,950 215,930 235,905 C280,860 340,835 385,825 L440,815 C560,740 760,620 905,578 C1000,560 1100,555 1180,556 C1300,560 1420,580 1515,603 C1535,640 1580,740 1620,830 C1640,900 1650,950 1665,985 L1690,1050 L1675,1185 L1640,1190 C1650,1100 1590,1030 1500,1028 C1400,1030 1340,1110 1352,1236 L570,1236 C580,1110 520,1030 422,1028 C330,1030 265,1100 268,1222 L200,1220 Z" fill="#0c399f"/>
<path d="M610,1040 L1320,1020 L1320,1050 L620,1062 Z" fill="#082a80"/>
<path d="M1100,578 L1125,578 L1105,1160 L1095,1160 Z" fill="#072a78"/>
<path d="M688,752 C760,690 850,645 930,625 L1092,612 L1065,812 L770,852 L700,852 L735,790 Z" fill="#dde5e8"/>
<path d="M1165,630 C1165,612 1180,605 1200,607 C1290,612 1380,630 1420,662 C1420,700 1400,740 1370,752 C1300,775 1230,785 1185,786 C1165,780 1158,770 1160,750 Z" fill="#dde5e8"/>
<circle cx="670" cy="800" r="45" fill="#0b2f8c"/>
<path d="M730,775 L775,845 L755,850 L722,790 Z" fill="#9aa"/>
<path d="M228,955 C225,920 260,880 330,860 C370,850 400,848 415,852 C400,885 360,915 310,940 C270,958 240,970 228,955 Z" fill="#d5dade"/>
<path d="M1518,650 C1560,690 1600,760 1620,850 L1530,860 Z" fill="#4a4248"/>
<ellipse cx="1575" cy="800" rx="30" ry="40" fill="#a88"/>
<rect x="128" y="1040" width="70" height="75" rx="14" fill="#15151a"/>
<path d="M150,1165 L235,1158 L225,1185 L165,1190 Z" fill="#1a1a2a"/>
<rect x="1665" y="990" width="25" height="90" rx="8" fill="#111"/>
<g transform="translate(423,1193) scale(0.985,1.13)">
<circle cx="0" cy="0" r="132" fill="#333030"/>
<circle cx="0" cy="0" r="90" fill="#c4c4c6"/>
<ellipse cx="0" cy="-55" rx="22" ry="14" fill="#111"/>
<ellipse cx="0" cy="55" rx="22" ry="14" fill="#111"/>
<ellipse cx="-50" cy="0" rx="14" ry="22" fill="#111"/>
<ellipse cx="50" cy="0" rx="14" ry="22" fill="#111"/>
<circle cx="0" cy="0" r="16" fill="#e8e4c0"/>
</g>
<g transform="translate(1501,1193) scale(0.985,1.13)">
<circle cx="0" cy="0" r="132" fill="#333030"/>
<circle cx="0" cy="0" r="90" fill="#c4c4c6"/>
<ellipse cx="0" cy="-55" rx="22" ry="14" fill="#111"/>
<ellipse cx="0" cy="55" rx="22" ry="14" fill="#111"/>
<ellipse cx="-50" cy="0" rx="14" ry="22" fill="#111"/>
<ellipse cx="50" cy="0" rx="14" ry="22" fill="#111"/>
<circle cx="0" cy="0" r="16" fill="#e8e4c0"/>
</g>
</g>
<defs>
<linearGradient id="gA" x1="0.6" y1="0" x2="0.4" y2="1"><stop offset="0.1" stop-color="#eeec80"/><stop offset="0.75" stop-color="#dc7c28"/></linearGradient>
<linearGradient id="gB" x1="0" y1="0" x2="1" y2="0"><stop offset="0.1" stop-color="#dc7c28"/><stop offset="0.9" stop-color="#eeec80"/></linearGradient>
<linearGradient id="gC" x1="0.2" y1="0" x2="0.7" y2="1"><stop offset="0.1" stop-color="#eeec80"/><stop offset="0.85" stop-color="#dc7c28"/></linearGradient>
</defs>
<g transform="translate(1280,1070) scale(0.26103)">
<g font-weight="bold" fill="#fff" stroke="#d2d2d2" stroke-width="3" font-size="560"><text x="478" y="865" textLength="430" lengthAdjust="spacingAndGlyphs">3</text><text x="890" y="865" textLength="340" lengthAdjust="spacingAndGlyphs">R</text></g>
<g transform="translate(-50,38)" fill="#5e5e5e"><path d="M565,85 L950,85 L650,500 L385,365 Z"/><path d="M950,85 C1100,70 1180,140 1215,225 L1370,160 L1190,455 L815,455 L930,385 L835,225 Z"/></g>
<path d="M565,85 L950,85 L650,500 L385,365 Z" fill="url(#gA)" stroke="#9a68b8" stroke-width="4"/>
<path d="M950,85 C1100,70 1180,140 1215,225 L1370,160 L1190,455 L815,455 L930,385 L835,225 Z" fill="#32a556" stroke="#32a556" stroke-width="3"/>
<g transform="translate(-48,40)" fill="#5e5e5e"><path d="M110,478 L460,475 L660,775 L535,715 L440,860 L400,920 L375,1030 L170,740 C155,715 158,690 170,665 L240,555 Z"/><path d="M440,865 L805,865 L805,1165 L500,1165 C420,1150 380,1080 385,1000 C390,930 420,890 440,865 Z"/></g>
<path d="M110,478 L460,475 L660,775 L535,715 L440,860 L400,920 L375,1030 L170,740 C155,715 158,690 170,665 L240,555 Z" fill="#32a556" stroke="#32a556" stroke-width="3"/>
<path d="M440,865 L805,865 L805,1165 L500,1165 C420,1150 380,1080 385,1000 C390,930 420,890 440,865 Z" fill="url(#gB)" stroke="#9a68b8" stroke-width="4"/>
<g transform="translate(-48,40)" fill="#5e5e5e"><path d="M1065,550 L1335,415 L1480,650 C1500,750 1450,850 1250,878 L1225,870 Z"/><path d="M1045,735 L1045,865 L1250,878 L1425,845 L1290,1100 C1270,1150 1250,1175 1225,1178 L1045,1185 L1045,1335 L875,1055 Z"/></g>
<path d="M1045,735 L1045,865 L1250,878 L1425,845 L1290,1100 C1270,1150 1250,1175 1225,1178 L1045,1185 L1045,1335 L875,1055 Z" fill="#32a556" stroke="#9a68b8" stroke-width="5"/>
<path d="M1065,550 L1335,415 L1480,650 C1500,750 1450,850 1250,878 L1225,870 Z" fill="url(#gC)" stroke="#9a68b8" stroke-width="5"/>
<g font-family="Liberation Serif,serif" font-weight="bold" fill="#fff" font-size="92">
<text x="910" y="310" textLength="315" lengthAdjust="spacingAndGlyphs">Riduci</text>
<text x="210" y="680" textLength="320" lengthAdjust="spacingAndGlyphs">Ricicla</text>
<text x="870" y="1055" textLength="450" lengthAdjust="spacingAndGlyphs">Riutilizza</text>
</g></g>
</svg>
</body></html>
